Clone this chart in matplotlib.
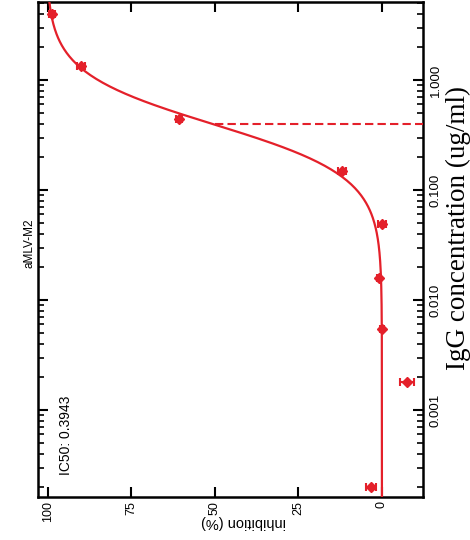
import matplotlib
matplotlib.use('Agg')
import matplotlib.pyplot as plt
import numpy as np

plt.rcParams['font.family'] = ['Liberation Sans', 'DejaVu Sans']

# IgG dilution series and measured inhibition
conc = [4.0, 1.33, 0.44, 0.15, 0.049, 0.016, 0.0055, 0.0018, 0.0002]
inhibition = [98.8, 90.1, 60.8, 12.0, 0.0, 0.9, 0.0, -7.5, 3.3]
inhibition_err = [1.0, 1.2, 1.0, 1.2, 1.2, 0.6, 0.5, 2.2, 1.4]

# four-parameter logistic fit
fit_top = 100.5
fit_bottom = 0.0
ic50 = 0.3943
hill = 1.83

conc_ticks = [0.001, 0.01, 0.1, 1.0]
conc_labels = ['0.001', '0.010', '0.100', '1.000']
inh_ticks = [100, 75, 50, 25, 0]
inh_labels = ['100', '75', '50', '25', '0']

red = '#e4202a'

fig = plt.figure(figsize=(4.7, 5.4), dpi=100)
ax = fig.add_axes([38 / 470, 1 - 497 / 540, 385 / 470, 495 / 540])

# plot is laid out turned a quarter turn: inhibition runs right-to-left, concentration upwards
ax.set_yscale('log')
ax.set_xlim(103, -12.3)
ax.set_ylim(1.62e-4, 5.12)

cfit = np.logspace(np.log10(1.62e-4), np.log10(5.12), 400)
ifit = fit_bottom + (fit_top - fit_bottom) / (1 + (ic50 / cfit) ** hill)
ax.plot(ifit, cfit, color=red, lw=1.6, zorder=3)

ax.errorbar(inhibition, conc, xerr=inhibition_err, fmt='D', color=red,
            ms=5, elinewidth=1.5, capsize=3, capthick=1.5, zorder=4)

# IC50 drop line
ax.plot([50, -12.3], [ic50, ic50], color=red, lw=1.5, ls=(0, (4, 2)), zorder=3)

ax.set_xticks(inh_ticks)
ax.set_xticklabels(inh_labels, rotation=90, fontsize=9)
ax.set_yticks(conc_ticks)
ax.set_yticklabels(conc_labels, rotation=90, fontsize=9.5, va='center')
ax.yaxis.tick_right()

ax.tick_params(axis='x', which='major', direction='in', length=7, width=1.5,
               top=True, bottom=True, labeltop=False, pad=3)
ax.tick_params(axis='y', which='major', direction='in', length=7, width=1.5,
               left=True, right=True, labelleft=False, labelright=True, pad=5)
ax.tick_params(axis='y', which='minor', direction='in', length=4, width=1.2,
               left=True, right=True)
for s in ax.spines.values():
    s.set_linewidth(1.8)

fig.text(243 / 470, 1 - 522 / 540, 'inhibition (%)', rotation=180,
         ha='center', va='center', fontsize=10.5)
fig.text(30 / 470, 1 - 243 / 540, 'aMLV-M2', rotation=90,
         ha='center', va='center', fontsize=8.5)
fig.text(66 / 470, 1 - 435 / 540, 'IC50: 0.3943', rotation=90,
         ha='center', va='center', fontsize=10)
fig.text(458 / 470, 1 - 228 / 540, 'IgG concentration (ug/ml)', rotation=90,
         ha='center', va='center', fontsize=19.5, family='Liberation Serif')

fig.savefig('out.png', dpi=100)
